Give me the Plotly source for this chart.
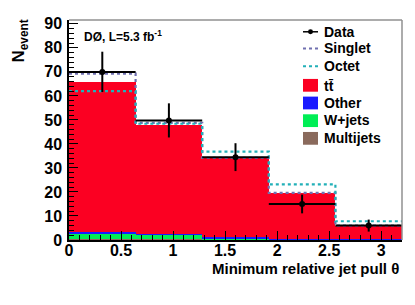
import plotly.graph_objects as go

bin_edges = [0.0, 0.64, 1.28, 1.92, 2.56, 3.2]
bin_centers = [0.32, 0.96, 1.60, 2.24, 2.88]
bin_halfwidth = [0.32, 0.32, 0.32, 0.32, 0.32]

data_vals = [70.0, 49.8, 34.5, 15.0, 6.0]
data_err = [8.4, 7.1, 5.8, 3.9, 2.5]

multijets = [0.5, 0.4, 0.2, 0.1, 0.05]
wjets = [2.4, 1.9, 0.5, 0.2, 0.1]
other = [0.5, 0.4, 0.5, 0.2, 0.1]
ttbar = [62.3, 45.0, 32.8, 19.0, 5.6]

singlet = [69.3, 48.8, 34.2, 19.6, 6.0]
octet = [62.0, 48.4, 36.8, 23.2, 7.8]

x_tick_vals = [0, 0.5, 1, 1.5, 2, 2.5, 3]
x_tick_text = ["0", "0.5", "1", "1.5", "2", "2.5", "3"]
y_tick_vals = [0, 10, 20, 30, 40, 50, 60, 70, 80, 90]

widths = [bin_edges[i + 1] - bin_edges[i] for i in range(5)]
FONT = "Liberation Sans"

C_RED = "#fb0022"
C_BLUE = "#1a1aff"
C_GREEN = "#00ee55"
C_BROWN = "#8a6a5c"
C_SING = "#7070b0"
C_OCT = "#22b0b8"

# plot-area geometry (window pixels) used to place legend decorations
PL, PW, PB, PH = 69.0, 333.0, 240.0, 224.0
def px(x):
    return (x - PL) / PW
def py(y):
    return (PB - y) / PH

fig = go.Figure()

stack = [
    ("Multijets", multijets, C_BROWN),
    ("W+jets", wjets, C_GREEN),
    ("Other", other, C_BLUE),
    ("tt\u0304", ttbar, C_RED),
]
for name, vals, col in stack:
    fig.add_trace(go.Bar(
        x=bin_centers, y=vals, width=widths, name=name,
        marker=dict(color=col, line=dict(width=0)),
    ))

fig.add_trace(go.Scatter(
    x=bin_edges, y=singlet + [singlet[-1]], mode="lines", line_shape="hv",
    name="Singlet", line=dict(color=C_SING, width=2.2, dash="dot"),
))
fig.add_trace(go.Scatter(
    x=bin_edges, y=octet + [octet[-1]], mode="lines", line_shape="hv",
    name="Octet", line=dict(color=C_OCT, width=2.2, dash="dot"),
))
fig.add_trace(go.Scatter(
    x=bin_centers, y=data_vals, mode="markers", name="Data",
    marker=dict(color="black", size=6),
    error_y=dict(type="data", array=data_err, color="black", thickness=2, width=0),
    error_x=dict(type="data", array=bin_halfwidth, color="black", thickness=2, width=0),
))

fig.update_layout(
    width=407, height=297,
    margin=dict(l=61, r=13, t=8, b=65),
    paper_bgcolor="white", plot_bgcolor="white",
    barmode="stack", bargap=0,
    font=dict(family=FONT, size=15, color="black"),
    showlegend=False,
)

fig.update_xaxes(
    range=[0, 3.2], showgrid=False, zeroline=False,
    showline=True, linecolor="black", linewidth=1.5,
    ticks="inside", ticklen=9, tickwidth=1.2, tickcolor="black",
    tickvals=x_tick_vals, ticktext=x_tick_text,
    tickfont=dict(family=FONT, size=16, weight="bold"),
    ticklabelstandoff=-5,
    minor=dict(dtick=0.1, tick0=0, ticks="inside", ticklen=5, tickwidth=1, tickcolor="black"),
    layer="above traces",
)
fig.update_yaxes(
    range=[0, 91.6], showgrid=False, zeroline=False,
    showline=True, linecolor="black", linewidth=1.5,
    ticks="inside", ticklen=9, tickwidth=1.2, tickcolor="black",
    tickvals=y_tick_vals,
    tickfont=dict(family=FONT, size=16, weight="bold"),
    ticklabelstandoff=2,
    minor=dict(dtick=2, tick0=0, ticks="inside", ticklen=5, tickwidth=1, tickcolor="black"),
    layer="above traces",
)

# grey top/right frame
fig.add_shape(type="line", xref="paper", yref="paper", x0=0, x1=1, y0=1, y1=1,
              line=dict(color="#909090", width=1.5))
fig.add_shape(type="line", xref="paper", yref="paper", x0=1, x1=1, y0=0, y1=1,
              line=dict(color="#909090", width=1.5))

# legend (drawn manually to match the ROOT legend spacing)
lx0, lx1, ltx = 303, 318, 322
fig.add_shape(type="line", xref="paper", yref="paper", x0=px(lx0), x1=px(lx1),
              y0=py(28), y1=py(28), line=dict(color="black", width=1.5))
fig.add_shape(type="circle", xref="paper", yref="paper", x0=px(308), x1=px(313),
              y0=py(30.5), y1=py(25.5), fillcolor="black", line=dict(color="black", width=0))
fig.add_shape(type="line", xref="paper", yref="paper", x0=px(lx0), x1=px(lx1),
              y0=py(45), y1=py(45), line=dict(color=C_SING, width=2, dash="dot"))
fig.add_shape(type="line", xref="paper", yref="paper", x0=px(lx0), x1=px(lx1),
              y0=py(63), y1=py(63), line=dict(color=C_OCT, width=2, dash="dot"))
for (top, col) in [(76, C_RED), (94, C_BLUE), (112, C_GREEN), (130, C_BROWN)]:
    fig.add_shape(type="rect", xref="paper", yref="paper", x0=px(lx0), x1=px(lx1),
                  y0=py(top + 13), y1=py(top), fillcolor=col, line=dict(width=0))

legend_items = [("Data", 28), ("Singlet", 45), ("Octet", 63), ("tt\u0304", 83),
                ("Other", 100), ("W+jets", 118), ("Multijets", 136)]
for txt, yc in legend_items:
    fig.add_annotation(
        xref="paper", yref="paper", x=px(ltx), y=py(yc), xanchor="left", yanchor="middle",
        text=txt, showarrow=False,
        font=dict(family=FONT, size=14, weight="bold"),
    )

fig.add_annotation(
    xref="paper", yref="paper", x=px(82), y=py(32), xanchor="left", yanchor="middle",
    text="DØ, L=5.3 fb<sup>-1</sup>", showarrow=False,
    font=dict(family=FONT, size=12, weight="bold"),
)
fig.add_annotation(
    xref="paper", yref="paper", x=px(401), y=py(269), xanchor="right", yanchor="middle",
    text="Minimum relative jet pull θ", showarrow=False,
    font=dict(family=FONT, size=15, weight="bold"),
)
fig.add_annotation(
    xref="paper", yref="paper", x=px(20), y=py(14), xanchor="center", yanchor="top",
    text="N<sub>event</sub>", showarrow=False, textangle=-90,
    font=dict(family=FONT, size=17, weight="bold"),
)

fig.write_html("out.html")
